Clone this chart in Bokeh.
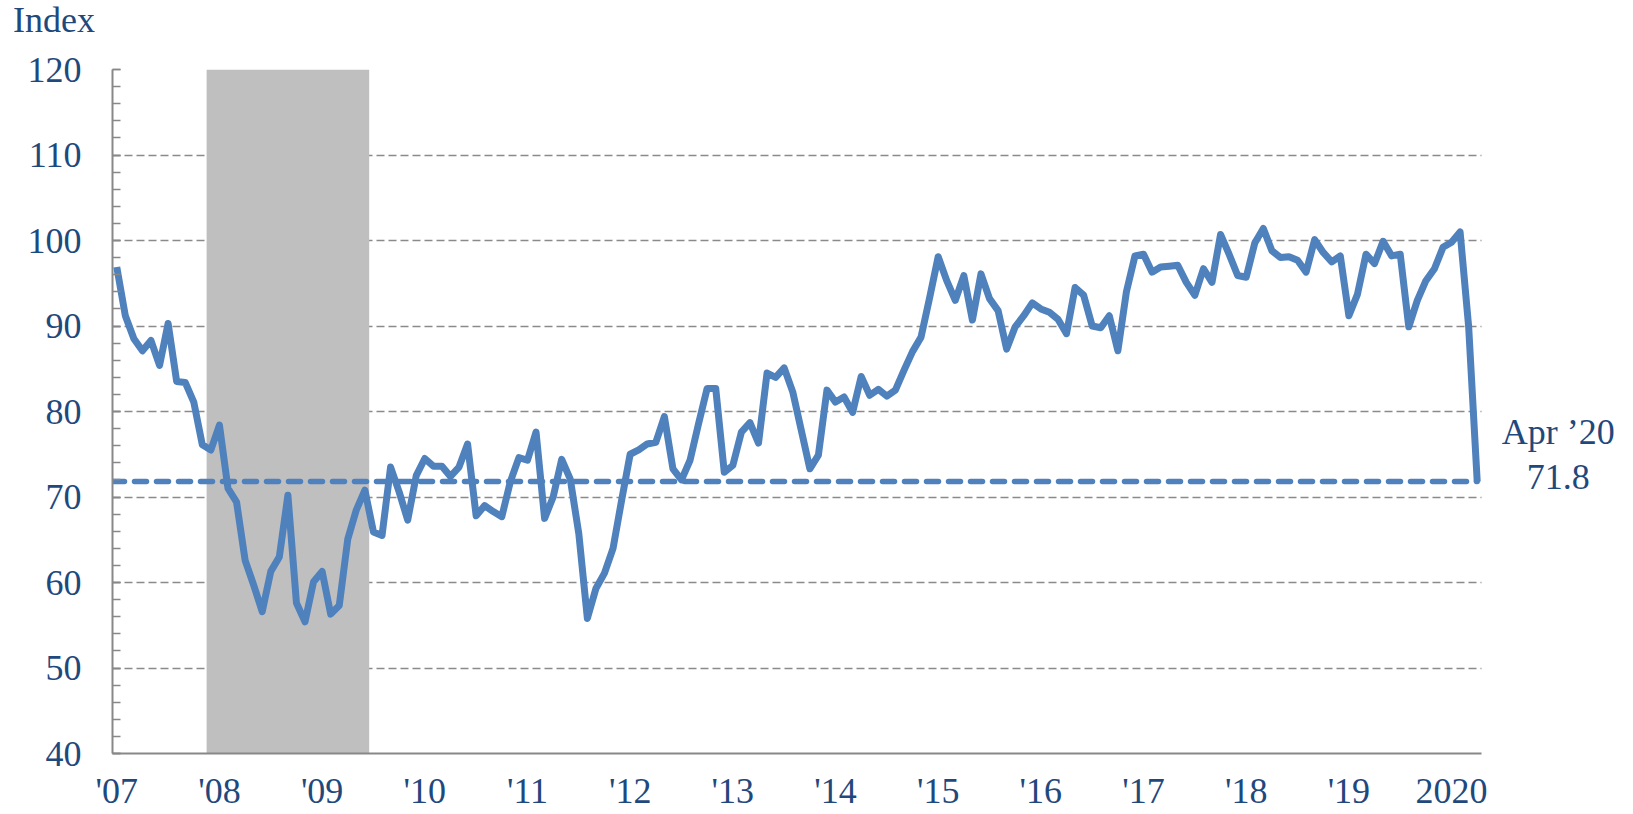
from bokeh.plotting import figure
from bokeh.models import FixedTicker, SingleIntervalTicker, Range1d, Label
from bokeh.core.properties import value
from bokeh.embed import file_html
from bokeh.resources import INLINE

# Monthly index, Jan 2007 .. Apr 2020
index_values = [
    96.9, 91.2, 88.5, 87.1, 88.3, 85.4, 90.3, 83.5, 83.4, 81.1, 76.1, 75.5,   # 2007
    78.4, 71.0, 69.4, 62.6, 59.7, 56.6, 61.3, 63.0, 70.2, 57.6, 55.4, 60.1,   # 2008
    61.3, 56.3, 57.3, 65.1, 68.5, 70.8, 65.9, 65.5, 73.5, 70.6, 67.3, 72.5,   # 2009
    74.5, 73.6, 73.6, 72.4, 73.5, 76.2, 67.8, 69.0, 68.3, 67.7, 71.8, 74.6,   # 2010
    74.3, 77.6, 67.5, 70.0, 74.4, 72.1, 65.7, 55.8, 59.3, 61.1, 64.0, 69.6,   # 2011
    75.0, 75.5, 76.2, 76.4, 79.4, 73.3, 72.0, 74.3, 78.6, 82.7, 82.7, 72.9,   # 2012
    73.7, 77.6, 78.7, 76.3, 84.5, 84.0, 85.1, 82.3, 77.8, 73.3, 74.9, 82.5,   # 2013
    81.1, 81.7, 79.9, 84.1, 81.9, 82.6, 81.8, 82.5, 84.8, 87.0, 88.7, 93.3,   # 2014
    98.1, 95.3, 93.0, 95.9, 90.7, 96.1, 93.2, 91.8, 87.3, 89.9, 91.2, 92.7,   # 2015
    92.0, 91.6, 90.8, 89.1, 94.5, 93.6, 90.0, 89.8, 91.2, 87.1, 94.0, 98.2,   # 2016
    98.4, 96.3, 96.9, 97.0, 97.1, 95.1, 93.6, 96.7, 95.1, 100.7, 98.4, 95.9,  # 2017
    95.7, 99.7, 101.4, 98.8, 98.0, 98.1, 97.7, 96.3, 100.1, 98.6, 97.5, 98.2, # 2018
    91.2, 93.7, 98.4, 97.3, 99.9, 98.2, 98.4, 89.9, 93.0, 95.3, 96.7, 99.2,   # 2019
    99.8, 101.0, 89.9, 71.8,                                                  # 2020
]
year_labels = ["'07", "'08", "'09", "'10", "'11", "'12", "'13", "'14",
               "'15", "'16", "'17", "'18", "'19", "2020"]
year_start_months = [12 * k for k in range(len(year_labels))]
recession_start_month = 11   # Dec 2007
recession_end_month = 29     # Jun 2009
latest_label = "Apr \u201920"

n = len(index_values)
months = list(range(n))
latest = index_values[-1]

TEXT = "#1F497D"
BLUE = "#4F81BD"
GRAY = "#888888"
FONT = "Liberation Serif"

W, H = 1633, 814
LEFT, TOP, BOTTOM = 112, 69, 61
AXIS_RIGHT = 1481                      # where the data area visually ends
px_per_month = (AXIS_RIGHT - LEFT) / n
x_end = -0.5 + (W - LEFT) / px_per_month   # frame reaches the canvas edge (room for the note)

p = figure(width=W, height=H, output_backend="svg", toolbar_location=None,
           x_range=Range1d(-0.5, x_end), y_range=Range1d(40, 120),
           min_border_left=LEFT, min_border_right=0,
           min_border_top=TOP, min_border_bottom=BOTTOM)
p.outline_line_color = None
p.background_fill_color = "white"
p.border_fill_color = "white"

# grid
p.xgrid.visible = False
p.ygrid.grid_line_color = "#8A8A8A"
p.ygrid.grid_line_dash = "8 4"
p.ygrid.grid_line_width = 1.5
p.ygrid.cross_bounds = (-0.5, n - 0.5)

# y axis
yax = p.yaxis[0]
yax.ticker = SingleIntervalTicker(interval=10, num_minor_ticks=5)
yax.axis_line_color = GRAY
yax.axis_line_width = 2
yax.major_tick_in = 8
yax.major_tick_out = 0
yax.minor_tick_in = 8
yax.minor_tick_out = 0
yax.major_tick_line_color = GRAY
yax.minor_tick_line_color = GRAY
yax.major_tick_line_width = 1.5
yax.minor_tick_line_width = 1.5
yax.major_label_text_font = FONT
yax.major_label_text_font_size = "36px"
yax.major_label_text_color = TEXT
yax.major_label_standoff = 31

# x axis
xax = p.xaxis[0]
xax.ticker = FixedTicker(ticks=year_start_months)
xax.major_label_overrides = {m: lab for m, lab in zip(year_start_months, year_labels)}
xax.bounds = (-0.5, n - 0.5)
xax.axis_line_color = GRAY
xax.axis_line_width = 2
xax.major_tick_line_color = None
xax.minor_tick_line_color = None
xax.major_label_text_font = FONT
xax.major_label_text_font_size = "36px"
xax.major_label_text_color = TEXT
xax.major_label_standoff = 11

# recession shading
p.quad(left=[recession_start_month - 0.5], right=[recession_end_month + 0.5],
       bottom=[40], top=[120], fill_color="#BFBFBF", line_color=None)

# index line
p.line(months, index_values, line_color=BLUE, line_width=7, line_join="round")

# latest level reference line
p.line([-0.5, n - 1], [latest, latest], line_color=BLUE, line_width=5.5,
       line_dash="12 10", line_cap="round")

# note for the latest value
note_x = n - 1 + 81 / px_per_month
p.text(x=[note_x, note_x], y=[latest + 5.8, latest + 0.5],
       text=[latest_label, f"{latest:.1f}"],
       text_align="center", text_baseline="middle",
       text_font=value(FONT), text_font_size="36px", text_color=TEXT)

# "Index" unit label in the top border
p.add_layout(Label(x=-0.5, y=120, x_offset=12.5 - LEFT, y_offset=50, text="Index",
                   text_align="left", text_baseline="alphabetic",
                   text_font=FONT, text_font_size="36px", text_color=TEXT), "above")

open("out.html", "w").write(file_html(p, INLINE))
